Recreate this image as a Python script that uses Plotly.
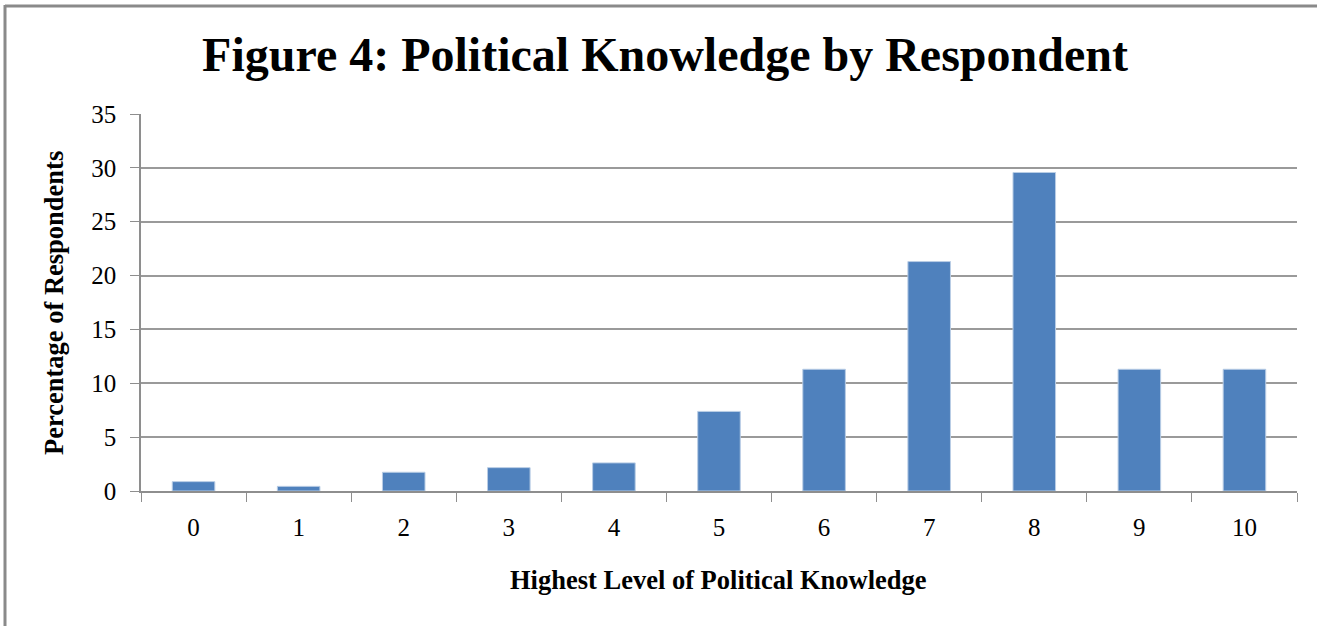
import plotly.graph_objects as go

# Highest level of political knowledge reached (0-10) and share of respondents (%)
levels = ["0", "1", "2", "3", "4", "5", "6", "7", "8", "9", "10"]
percent = [0.87, 0.43, 1.74, 2.17, 2.61, 7.39, 11.30, 21.30, 29.57, 11.30, 11.30]

W, H = 1317, 626
ML, MR, MT, MB = 141, 20, 114, 135
PW, PH = W - ML - MR, H - MT - MB

SERIF = "Liberation Serif, Times New Roman, serif"
AXIS_GREY = "#8e8e8e"


def px_x(px):
    return (px - ML) / PW


def px_y(py):
    return (H - MB - py) / PH


fig = go.Figure(
    go.Bar(
        x=levels,
        y=percent,
        marker=dict(color="#4f81bd", line=dict(color="#b9cde5", width=1)),
        hoverinfo="x+y",
    )
)

fig.update_layout(
    width=W,
    height=H,
    margin=dict(l=ML, r=MR, t=MT, b=MB),
    paper_bgcolor="white",
    plot_bgcolor="white",
    bargap=0.595,
    showlegend=False,
    title=dict(
        text="<b>Figure 4: Political Knowledge by Respondent</b>",
        font=dict(family=SERIF, size=48, color="black"),
        x=665 / W,
        xanchor="center",
        xref="container",
        y=1 - 54 / H,
        yanchor="middle",
        yref="container",
    ),
    xaxis=dict(
        type="category",
        tickson="boundaries",
        ticks="outside",
        ticklen=9,
        tickcolor=AXIS_GREY,
        showline=True,
        linecolor=AXIS_GREY,
        linewidth=1.5,
        showgrid=False,
        tickfont=dict(family=SERIF, size=25, color="black"),
        ticklabelstandoff=13,
    ),
    yaxis=dict(
        range=[0, 35],
        dtick=5,
        ticks="outside",
        ticklen=9,
        tickcolor=AXIS_GREY,
        showline=True,
        linecolor=AXIS_GREY,
        linewidth=1.5,
        showgrid=True,
        gridcolor="#9a9a9a",
        gridwidth=1.5,
        zeroline=False,
        tickfont=dict(family=SERIF, size=25, color="black"),
        ticklabelstandoff=9,
    ),
    annotations=[
        dict(
            text="<b>Highest Level of Political Knowledge</b>",
            xref="paper", yref="paper",
            x=px_x(718), y=px_y(580),
            xanchor="center", yanchor="middle",
            showarrow=False,
            font=dict(family=SERIF, size=26.5, color="black"),
        ),
        dict(
            text="<b>Percentage of Respondents</b>",
            xref="paper", yref="paper",
            x=px_x(54), y=px_y(303),
            xanchor="center", yanchor="middle",
            textangle=-90,
            showarrow=False,
            font=dict(family=SERIF, size=26.5, color="black"),
        ),
    ],
    shapes=[
        # frame: top and left edges
        dict(type="line", xref="paper", yref="paper",
             x0=px_x(5), x1=px_x(W + 5), y0=px_y(6), y1=px_y(6),
             line=dict(color="#8a8a8a", width=3)),
        dict(type="line", xref="paper", yref="paper",
             x0=px_x(5), x1=px_x(5), y0=px_y(5), y1=px_y(H + 5),
             line=dict(color="#8a8a8a", width=3)),
    ],
)

fig.write_html("out.html")
